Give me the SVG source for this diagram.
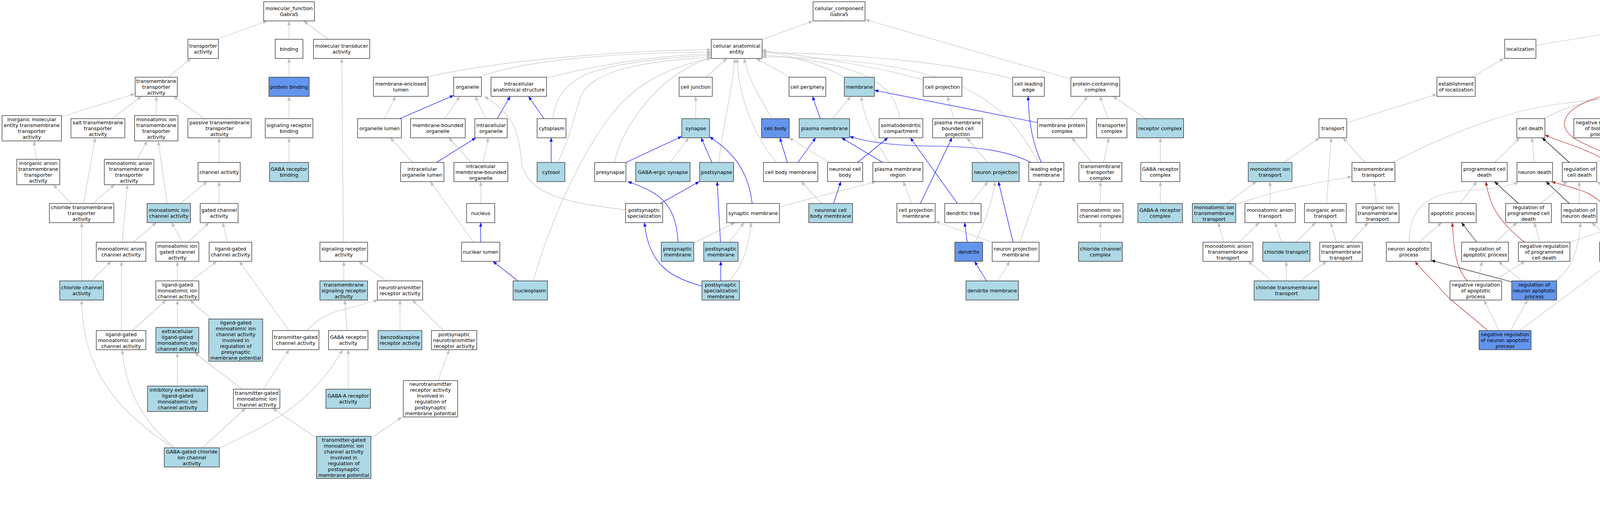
<svg xmlns="http://www.w3.org/2000/svg" width="6372" height="1325" viewBox="0 0 6372 1325">
<style>
.e path{fill:none;stroke-width:1.2}
.g{stroke:#C0C0C0;marker-end:url(#ag)}
.b{stroke:#0000FF;marker-end:url(#ab)}
.k{stroke:#000000;marker-end:url(#ak)}
.r{stroke:#B22222;marker-end:url(#ar)}
.nd rect{fill:#FFFFFF;stroke:#333333;stroke-width:1.4}
.lb rect{fill:#ADD8E6}
.cb rect{fill:#6495ED}
text{font-family:'DejaVu Sans','Liberation Sans',sans-serif;font-size:12.7px;text-anchor:middle;fill:#000}
</style>
<defs>
<marker id="ag" viewBox="0 0 11 9" refX="11" refY="4.5" markerWidth="11" markerHeight="9" markerUnits="userSpaceOnUse" orient="auto"><path d="M0,0L11,4.5L0,9z" fill="#C0C0C0"/></marker>
<marker id="ab" viewBox="0 0 10 8" refX="10" refY="4" markerWidth="10" markerHeight="8" markerUnits="userSpaceOnUse" orient="auto"><path d="M0,0L10,4L0,8z" fill="#0000FF"/></marker>
<marker id="ak" viewBox="0 0 10 8" refX="10" refY="4" markerWidth="10" markerHeight="8" markerUnits="userSpaceOnUse" orient="auto"><path d="M0,0L10,4L0,8z" fill="#000000"/></marker>
<marker id="ar" viewBox="0 0 10 8" refX="10" refY="4" markerWidth="10" markerHeight="8" markerUnits="userSpaceOnUse" orient="auto"><path d="M0,0L10,4L0,8z" fill="#B22222"/></marker>
</defs>
<rect x="0" y="0" width="6372" height="1325" fill="#FFFFFF"/>
<g id="connectors" class="e">
<path class="g" d="M555,100.5L684,53.5"/>
<path class="g" d="M740,100.5V53.5"/>
<path class="g" d="M840,100.5L777,53.5"/>
<path class="g" d="M431,197.5L489,149.5"/>
<path class="g" d="M740,197.5V149.5"/>
<path class="g" d="M740,303.5V246.5"/>
<path class="g" d="M740,415.5V352.5"/>
<path class="g" d="M879,619.5L875,149.5"/>
<path class="g" d="M157,299L345,240"/>
<path class="g" d="M287,303.5L362,246.5"/>
<path class="g" d="M400,295.5V246.5"/>
<path class="g" d="M523.5,303.5L444,246.5"/>
<path class="g" d="M93,407.5L87,360.5"/>
<path class="g" d="M351,407.5L377,360.5"/>
<path class="g" d="M428,520.5L405,360.5"/>
<path class="g" d="M561,415.5V352.5"/>
<path class="g" d="M183,520.5L136,472.5"/>
<path class="g" d="M214,520.5L244,352.5"/>
<path class="g" d="M237,520.5L293,472.5"/>
<path class="g" d="M462,520.5L530,464.5"/>
<path class="g" d="M561,520.5V464.5"/>
<path class="g" d="M341,619.5L400,569.5"/>
<path class="g" d="M313,619.5L326,472.5"/>
<path class="g" d="M467,619.5L439,569.5"/>
<path class="g" d="M482,619.5L535,569.5"/>
<path class="g" d="M582.5,619.5L570,569.5"/>
<path class="g" d="M209,718.5V569.5"/>
<path class="g" d="M234,718.5L284.5,668.5"/>
<path class="g" d="M454,718.5V668.5"/>
<path class="g" d="M489,718.5L555,668.5"/>
<path class="g" d="M740,845.5L613,668.5"/>
<path class="g" d="M880,718.5V668.5"/>
<path class="g" d="M989,718.5L918,668.5"/>
<path class="g" d="M311,845.5V668.5"/>
<path class="g" d="M339,845.5L425,767.5"/>
<path class="g" d="M454,837.5V767.5"/>
<path class="g" d="M540.5,816L486,767.5"/>
<path class="g" d="M786,845.5C805,822 830,808 860,797L968,767.5"/>
<path class="g" d="M889,845.5L882,767.5"/>
<path class="g" d="M1024,845.5V767.5"/>
<path class="g" d="M1135,845.5L1056,767.5"/>
<path class="g" d="M454,987.5V902.5"/>
<path class="g" d="M620,995.5L498,902.5"/>
<path class="g" d="M674,995.5L740,894.5"/>
<path class="g" d="M891.5,995.5V894.5"/>
<path class="g" d="M1121.5,973.5L1150,894.5"/>
<path class="g" d="M443,1145.5C300,1050 212,950 209,767.5"/>
<path class="g" d="M448,1145.5C340,1060 318,960 313,894.5"/>
<path class="g" d="M518,1145.5L628.5,1044.5"/>
<path class="g" d="M561,1147C700,1080 800,1030 877,894.5"/>
<path class="g" d="M811,1121L698,1044.5"/>
<path class="g" d="M949.5,1121L1029,1066.8"/>
<path class="g" d="M1951,101L2081,54"/>
<path class="g" d="M2740,202L2215,50"/>
<path class="g" d="M1090,197.5C1300,150 1600,130 1821,127"/>
<path class="g" d="M1225,197.5C1350,150 1600,135 1821,133"/>
<path class="g" d="M1398,200C1550,160 1700,142 1821,137"/>
<path class="g" d="M1415,303.5C1420,260 1440,220 1500,190C1580,160 1700,148 1821,141"/>
<path class="g" d="M1428,415.5C1465,340 1475,270 1490,240C1520,190 1600,160 1821,146"/>
<path class="g" d="M1365,718.5C1420,530 1500,380 1560,300C1620,220 1700,175 1821,148"/>
<path class="g" d="M1573,415.5C1590,340 1640,270 1700,215C1750,175 1790,155 1821,149"/>
<path class="g" d="M1807,197.5L1861,149.5"/>
<path class="g" d="M1840,415.5C1850,320 1875,230 1881,149.5"/>
<path class="g" d="M1988,415.5C1940,360 1890,260 1887,149.5"/>
<path class="g" d="M1976,303.5C1940,240 1915,200 1905,149.5"/>
<path class="g" d="M2022,197.5L1936,149.5"/>
<path class="g" d="M2160,197.5C2100,160 2000,140 1951,127"/>
<path class="g" d="M2364,205C2250,170 2050,140 1951,131"/>
<path class="g" d="M2593,202C2400,150 2100,135 1951,135"/>
<path class="g" d="M2304,303.5C2290,210 2200,160 1951,140"/>
<path class="g" d="M2659,415.5C2580,280 2500,150 1951,145"/>
<path class="g" d="M1781,303.5V246.5"/>
<path class="b" d="M2100,303.5L2080,246.5"/>
<path class="g" d="M2131,303.5L2178,246.5"/>
<path class="g" d="M984,303.5L1012.5,246.5"/>
<path class="b" d="M1023,303.5L1161.5,244"/>
<path class="g" d="M1138.5,303.5L1177,246.5"/>
<path class="g" d="M1243.5,303.5L1216.5,246.5"/>
<path class="b" d="M1273,303.5L1306,246.5"/>
<path class="b" d="M1392.5,303.5L1353,246.5"/>
<path class="g" d="M1056.5,415.5L999,352.5"/>
<path class="b" d="M1117.5,415.5L1218,352.5"/>
<path class="g" d="M1206,415.5L1149,352.5"/>
<path class="g" d="M1237,415.5L1250,352.5"/>
<path class="b" d="M1411,415.5V352.5"/>
<path class="b" d="M1602.5,415.5L1745.5,349"/>
<path class="g" d="M1715.5,415.5L1763,352.5"/>
<path class="b" d="M1822.5,415.5L1795,352.5"/>
<path class="b" d="M2015.5,415.5L1996.5,352.5"/>
<path class="b" d="M2042.5,415.5L2088,352.5"/>
<path class="g" d="M2122,415.5L2020,352.5"/>
<path class="b" d="M2195,415.5L2273,352.5"/>
<path class="g" d="M2276,415.5C2240,360 2210,300 2205,246.5"/>
<path class="b" d="M2259.5,415.5L2154.5,352.5"/>
<path class="g" d="M2442,303.5L2425.5,246.5"/>
<path class="g" d="M2528,415.5L2475,352.5"/>
<path class="b" d="M2666,415.5C2640,360 2633,300 2632,246.5"/>
<path class="b" d="M2639,415.5C2580,385 2500,375 2400,374C2300,373 2230,366 2175,349"/>
<path class="b" d="M2656,313.5L2238.5,231"/>
<path class="g" d="M2739,303.5L2784,246.5"/>
<path class="g" d="M2836.5,303.5L2816,246.5"/>
<path class="g" d="M2933,303.5L2849,246.5"/>
<path class="g" d="M2794.5,415.5L2744,352.5"/>
<path class="g" d="M2825,415.5L2838.5,352.5"/>
<path class="g" d="M2970.5,415.5V352.5"/>
<path class="g" d="M1231,520.5V464.5"/>
<path class="b" d="M1690.5,520.5L1790,464.5"/>
<path class="g" d="M1601.5,537C1480,520 1360,510 1335,420C1330,330 1310,290 1240,246.5"/>
<path class="b" d="M1925.5,520.5C1915,430 1870,385 1816.5,350"/>
<path class="g" d="M1995.5,529L2242.5,464.5"/>
<path class="g" d="M2103,520.5L2051,464.5"/>
<path class="b" d="M2134,520.5L2152.5,464.5"/>
<path class="g" d="M2334,520.5L2312.5,464.5"/>
<path class="b" d="M2356,520.5L2437,352.5"/>
<path class="b" d="M2451,520.5L2330.5,352.5"/>
<path class="g" d="M2485,520.5L2529,464.5"/>
<path class="g" d="M2817,520.5V464.5"/>
<path class="g" d="M2970.5,520.5V464.5"/>
<path class="b" d="M1230.5,619.5V569.5"/>
<path class="g" d="M1212.5,619.5L1101.5,464.5"/>
<path class="b" d="M1736,619.5C1730,530 1700,495 1607,464.5"/>
<path class="g" d="M1776.5,621.5L1881.5,569.5"/>
<path class="b" d="M1844.5,619.5L1836,464.5"/>
<path class="g" d="M1866.5,619.5L1905,569.5"/>
<path class="b" d="M2476,619.5L2469.5,569.5"/>
<path class="g" d="M2496.5,619.5C2520,570 2540,520 2547,464.5"/>
<path class="b" d="M2593.5,619.5L2556,464.5"/>
<path class="g" d="M2538.5,619.5L2394,566"/>
<path class="g" d="M2610.5,619.5L2666,464.5"/>
<path class="g" d="M2817,619.5V569.5"/>
<path class="b" d="M1326,718.5L1262,668.5"/>
<path class="b" d="M1797,732C1720,710 1660,680 1650,569.5"/>
<path class="b" d="M1845,718.5V668.5"/>
<path class="g" d="M1868,718.5C1900,680 1915,640 1923.5,569.5"/>
<path class="b" d="M2525.5,718.5L2495,668.5"/>
<path class="g" d="M2555,718.5L2584.5,668.5"/>
<path class="g" d="M3931,116L4383.5,42"/>
<path class="g" d="M3768.5,197.5L3850,149.5"/>
<path class="g" d="M3448,314L3678.5,241"/>
<path class="g" d="M4316,197.5L4431,53.5"/>
<path class="r" d="M4120.5,303.5L4410.5,53.5"/>
<path class="k" d="M4427,197.5C4415,150 4418,100 4431,53.5"/>
<path class="g" d="M4485,100.5L4465,53.5"/>
<path class="g" d="M4590,100.5L4498.5,53.5"/>
<path class="g" d="M4957,114L4509.5,42"/>
<path class="g" d="M5886.5,211L4509.5,36"/>
<path class="g" d="M4451,197.5L4482,149.5"/>
<path class="g" d="M4766,204L4569,148"/>
<path class="g" d="M5130.5,213.5L4675.5,135"/>
<path class="g" d="M5489.5,207L5061,135"/>
<path class="g" d="M5009,303.5V149.5"/>
<path class="g" d="M4946,303.5C4880,275 4700,270 4590,270C4480,270 4420,262 4349,246.5"/>
<path class="g" d="M5171.5,303.5V246.5"/>
<path class="g" d="M4407,303.5L4333,246.5"/>
<path class="g" d="M4539,303.5L4345,246.5"/>
<path class="g" d="M4595,303.5L4627,149.5"/>
<path class="g" d="M4672.5,303.5L4498,243"/>
<path class="k" d="M4255,303.5L4282,246.5"/>
<path class="g" d="M4288.5,303.5L4383.5,246.5"/>
<path class="g" d="M4160,303.5L4378,246.5"/>
<path class="g" d="M4834,303.5L4829,246.5"/>
<path class="g" d="M4837,415.5V352.5"/>
<path class="b" d="M4439,415.5V352.5"/>
<path class="b" d="M4470,415.5L4556,352.5"/>
<path class="b" d="M4503.5,419L4672.5,352.5"/>
<path class="g" d="M4393.5,415.5L4288.5,352.5"/>
<path class="g" d="M4410.5,415.5C4360,360 4320,300 4309,246.5"/>
<path class="g" d="M4651,415.5L4691.5,352.5"/>
<path class="g" d="M4593.5,415.5L4485,352.5"/>
<path class="g" d="M5165.5,415.5L5054,352.5"/>
<path class="g" d="M4574.5,520.5L4617,464.5"/>
<path class="g" d="M4696.5,520.5L4658,464.5"/>
<path class="g" d="M5096,520.5L5020,352.5"/>
<path class="b" d="M5130.5,520.5L5182.5,464.5"/>
<path class="g" d="M5105,520.5C5110,420 5130,380 5200,370C5270,360 5290,300 5340,275C5400,250 5450,240 5489.5,235"/>
<path class="g" d="M4556,619.5V569.5"/>
<path class="g" d="M4556,718.5V668.5"/>
<path class="g" d="M4556,845.5V767.5"/>
<path class="g" d="M4556,995.5V894.5"/>
<path class="g" d="M5277.5,619.5L5220,464.5"/>
<path class="g" d="M5262,845.5C5230,760 5207,700 5206.5,464.5"/>
<path class="g" d="M5289.5,718.5V668.5"/>
<path class="b" d="M5278,845.5L5284,767.5"/>
<path class="b" d="M5152,995.5L5247,894.5"/>
<path class="g" d="M5126.5,995.5C5118,800 5110,650 5110,569.5"/>
<path class="g" d="M5281,995.5L5277.5,894.5"/>
<path class="g" d="M5282,1145.5V1044.5"/>
<path class="b" d="M5230,1272.5L5267.5,1194.5"/>
<path class="g" d="M5209.5,1272.5L5136.5,1044.5"/>
<path class="b" d="M5322,1145.5C5360,1080 5395,980 5415,800C5425,720 5433,690 5435,668.5"/>
<path class="b" d="M5433.5,619.5L5426.5,569.5"/>
<path class="g" d="M5398,619.5C5320,540 5320,430 5337,350C5360,270 5420,250 5489.5,240"/>
<path class="b" d="M5586.5,718.5L5489.5,668.5"/>
<path class="g" d="M5649,718.5C5700,560 5760,400 5700,310C5670,270 5640,260 5608,246.5"/>
<path class="g" d="M5415,520.5L5401.5,464.5"/>
<path class="g" d="M5401.5,415.5L5418.5,352.5"/>
<path class="g" d="M5459,303.5L5526.5,246.5"/>
<path class="g" d="M5512,303.5L5212.5,232"/>
<path class="g" d="M5653.5,306.5L5886.5,243"/>
<path class="g" d="M5791,303.5L5629.5,244"/>
<path class="g" d="M5881,303.5L5929.5,246.5"/>
<path class="g" d="M6026,303.5L5980.5,246.5"/>
<path class="g" d="M6160,303.5L6019.5,246.5"/>
<path class="g" d="M5477,415.5L5231.5,344"/>
<path class="g" d="M5588,415.5C5650,385 5750,378 5850,375C5930,372 5980,355 6012.5,342.5"/>
<path class="g" d="M5652,415.5L5604.5,352.5"/>
<path class="b" d="M5863.5,415.5L5860.5,352.5"/>
<path class="g" d="M5835,415.5C5770,360 5740,320 5710,300C5680,280 5650,262 5624,246.5"/>
<path class="g" d="M6214.5,415.5V352.5"/>
<path class="g" d="M5600,520.5L5554,464.5"/>
<path class="g" d="M5632,520.5L5657,464.5"/>
<path class="g" d="M5865,520.5V464.5"/>
<path class="g" d="M6185,520.5L6204,464.5"/>
<path class="g" d="M6280,520.5L6238,464.5"/>
<path class="b" d="M5336,620L5810.5,554"/>
<path class="b" d="M5926.5,619.5L5889,569.5"/>
<path class="g" d="M5957,619.5C5990,480 6010,330 5940,285C5860,245 5720,232 5629.5,228"/>
<path class="g" d="M6156.5,619.5L6169,569.5"/>
<path class="g" d="M6142,619.5L6058.5,352.5"/>
<path class="g" d="M6301,619.5V569.5"/>
<path class="b" d="M5986,718.5L5962,668.5"/>
<path class="g" d="M6014,718.5C6035,690 6045,670 6050,650C6100,500 6130,380 6110,320C6090,280 6060,260 6019.5,244"/>
<path class="g" d="M6150.5,718.5V668.5"/>
<path class="g" d="M6301,718.5V668.5"/>
<path class="g" d="M6150.5,845.5V767.5"/>
<path class="g" d="M3286,415.5L3378,352.5"/>
<path class="g" d="M3396,520.5L3408,352.5"/>
<path class="g" d="M3494,415.5L3438,352.5"/>
<path class="g" d="M3565,415.5C3750,320 3900,275 4000,265C4120,250 4200,240 4245,236"/>
<path class="g" d="M3953,303.5C4000,275 4080,250 4245,228"/>
<path class="r" d="M4164,415.5C4080,375 4010,360 4005,320C4002,270 4100,235 4245,221"/>
<path class="r" d="M4202,520.5C4170,480 4140,430 4110,410C4060,380 4000,365 3955,345"/>
<path class="k" d="M4017.5,415.5L3948,352.5"/>
<path class="g" d="M3826,415.5L3890.5,352.5"/>
<path class="g" d="M3927.5,415.5L3922,352.5"/>
<path class="g" d="M4087,415.5L4198.5,352.5"/>
<path class="g" d="M4200,415.5L4131,352.5"/>
<path class="g" d="M4232.5,415.5L4237,352.5"/>
<path class="g" d="M3738,520.5L3780.5,464.5"/>
<path class="k" d="M3887,520.5L3826,464.5"/>
<path class="r" d="M3902,619.5C3850,575 3815,540 3804,464.5"/>
<path class="k" d="M4017.5,520.5L3958,464.5"/>
<path class="g" d="M3607,619.5C3610,530 3650,495 3760,487C3830,483 3870,475 3887,464.5"/>
<path class="r" d="M4154.5,619.5C4135,560 4110,510 4050,488C4010,475 3990,470 3972,464.5"/>
<path class="g" d="M3944.5,520.5L4012,464.5"/>
<path class="g" d="M4043,520.5V464.5"/>
<path class="g" d="M4188.5,520.5L4087.5,464.5"/>
<path class="g" d="M4230.5,520.5V464.5"/>
<path class="g" d="M3140,520.5L3216.5,464.5"/>
<path class="g" d="M3163.5,524C3250,490 3380,465 3461,452"/>
<path class="g" d="M3251.5,520.5V464.5"/>
<path class="g" d="M3523.5,520.5L3518,464.5"/>
<path class="g" d="M3133,619.5L3118.5,569.5"/>
<path class="g" d="M3172.5,619.5L3223.5,569.5"/>
<path class="g" d="M3281,619.5L3264,569.5"/>
<path class="g" d="M3318,619.5L3367.5,569.5"/>
<path class="g" d="M3421.5,619.5L3406,569.5"/>
<path class="g" d="M3457,619.5L3502.5,569.5"/>
<path class="g" d="M3633,619.5L3690.5,569.5"/>
<path class="k" d="M3780.5,619.5L3741.5,569.5"/>
<path class="r" d="M3757,718.5C3730,690 3722,650 3718,569.5"/>
<path class="g" d="M3828,619.5L3883.5,569.5"/>
<path class="g" d="M3943,619.5L3927.5,569.5"/>
<path class="g" d="M4019,619.5L4166,569.5"/>
<path class="g" d="M4132,619.5L4074.5,569.5"/>
<path class="g" d="M4178,619.5L4212,569.5"/>
<path class="g" d="M3982,718.5C4020,690 4040,650 4046,569.5"/>
<path class="g" d="M3896,718.5L3836,668.5"/>
<path class="k" d="M3870,721L3664,666"/>
<path class="g" d="M3784,718.5L3794,668.5"/>
<path class="g" d="M3822.5,718.5L3904,668.5"/>
<path class="g" d="M3837.5,845.5L3799,767.5"/>
<path class="g" d="M3866.5,845.5L3910.5,767.5"/>
<path class="g" d="M3890.5,845.5L4127.5,668.5"/>
<path class="r" d="M3808,845.5C3760,800 3710,770 3680,730C3650,700 3630,680 3623,668.5"/>
<path class="g" d="M3257,718.5L3195,668.5"/>
<path class="g" d="M3293,718.5V668.5"/>
<path class="g" d="M3327,718.5L3396,668.5"/>
</g>
<g id="m0" class="nd"><rect x="675" y="4.5" width="130" height="49"/><text x="740" y="26">molecular_function<tspan x="740" dy="15">Gabra5</tspan></text></g>
<g id="m1" class="nd"><rect x="481" y="100.5" width="78" height="49"/><text x="520" y="122">transporter<tspan x="520" dy="15">activity</tspan></text></g>
<g id="m2" class="nd"><rect x="704.5" y="100.5" width="71" height="49"/><text x="740" y="129.5">binding</text></g>
<g id="m3" class="nd"><rect x="802.5" y="100.5" width="144" height="49"/><text x="874.5" y="122">molecular transducer<tspan x="874.5" dy="15">activity</tspan></text></g>
<g id="m4" class="nd"><rect x="346" y="197.5" width="108" height="49"/><text x="400" y="211.5">transmembrane<tspan x="400" dy="15">transporter</tspan><tspan x="400" dy="15">activity</tspan></text></g>
<g id="m5" class="nd cb"><rect x="688.5" y="197.5" width="103" height="49"/><text x="740" y="226.5">protein binding</text></g>
<g id="m6" class="nd"><rect x="5.3" y="295.5" width="152" height="65"/><text x="81.3" y="310">inorganic molecular<tspan x="81.3" dy="15">entity transmembrane</tspan><tspan x="81.3" dy="15">transporter</tspan><tspan x="81.3" dy="15">activity</tspan></text></g>
<g id="m7" class="nd"><rect x="181.6" y="303.5" width="138" height="49"/><text x="250.6" y="317.5">salt transmembrane<tspan x="250.6" dy="15">transporter</tspan><tspan x="250.6" dy="15">activity</tspan></text></g>
<g id="m8" class="nd"><rect x="344.5" y="295.5" width="111" height="65"/><text x="400" y="310">monoatomic ion<tspan x="400" dy="15">transmembrane</tspan><tspan x="400" dy="15">transporter</tspan><tspan x="400" dy="15">activity</tspan></text></g>
<g id="m9" class="nd"><rect x="481" y="303.5" width="162" height="49"/><text x="562" y="317.5">passive transmembrane<tspan x="562" dy="15">transporter</tspan><tspan x="562" dy="15">activity</tspan></text></g>
<g id="m10" class="nd"><rect x="679" y="303.5" width="122" height="49"/><text x="740" y="325">signaling receptor<tspan x="740" dy="15">binding</tspan></text></g>
<g id="m11" class="nd"><rect x="43" y="407.5" width="110" height="65"/><text x="98" y="422">inorganic anion<tspan x="98" dy="15">transmembrane</tspan><tspan x="98" dy="15">transporter</tspan><tspan x="98" dy="15">activity</tspan></text></g>
<g id="m12" class="nd"><rect x="267" y="407.5" width="127" height="65"/><text x="330.5" y="422">monoatomic anion<tspan x="330.5" dy="15">transmembrane</tspan><tspan x="330.5" dy="15">transporter</tspan><tspan x="330.5" dy="15">activity</tspan></text></g>
<g id="m13" class="nd"><rect x="507" y="415.5" width="108" height="49"/><text x="561" y="444.5">channel activity</text></g>
<g id="m14" class="nd lb"><rect x="690" y="415.5" width="100" height="49"/><text x="740" y="437">GABA receptor<tspan x="740" dy="15">binding</tspan></text></g>
<g id="m15" class="nd"><rect x="126.5" y="520.5" width="165" height="49"/><text x="209" y="534.5">chloride transmembrane<tspan x="209" dy="15">transporter</tspan><tspan x="209" dy="15">activity</tspan></text></g>
<g id="m16" class="nd lb"><rect x="376.5" y="520.5" width="111" height="49"/><text x="432" y="542">monoatomic ion<tspan x="432" dy="15">channel activity</tspan></text></g>
<g id="m17" class="nd"><rect x="512.5" y="520.5" width="97" height="49"/><text x="561" y="542">gated channel<tspan x="561" dy="15">activity</tspan></text></g>
<g id="m18" class="nd"><rect x="246.5" y="619.5" width="127" height="49"/><text x="310" y="641">monoatomic anion<tspan x="310" dy="15">channel activity</tspan></text></g>
<g id="m19" class="nd"><rect x="399" y="619.5" width="110" height="49"/><text x="454" y="633.5">monoatomic ion<tspan x="454" dy="15">gated channel</tspan><tspan x="454" dy="15">activity</tspan></text></g>
<g id="m20" class="nd"><rect x="535.5" y="619.5" width="109" height="49"/><text x="590" y="641">ligand-gated<tspan x="590" dy="15">channel activity</tspan></text></g>
<g id="m21" class="nd"><rect x="819" y="619.5" width="122" height="49"/><text x="880" y="641">signaling receptor<tspan x="880" dy="15">activity</tspan></text></g>
<g id="m22" class="nd lb"><rect x="153" y="718.5" width="112" height="49"/><text x="209" y="740">chloride channel<tspan x="209" dy="15">activity</tspan></text></g>
<g id="m23" class="nd"><rect x="399" y="718.5" width="110" height="49"/><text x="454" y="732.5">ligand-gated<tspan x="454" dy="15">monoatomic ion</tspan><tspan x="454" dy="15">channel activity</tspan></text></g>
<g id="m24" class="nd lb"><rect x="819" y="718.5" width="122" height="49"/><text x="880" y="732.5">transmembrane<tspan x="880" dy="15">signaling receptor</tspan><tspan x="880" dy="15">activity</tspan></text></g>
<g id="m25" class="nd"><rect x="966" y="718.5" width="116" height="49"/><text x="1024" y="740">neurotransmitter<tspan x="1024" dy="15">receptor activity</tspan></text></g>
<g id="m26" class="nd"><rect x="246.5" y="845.5" width="127" height="49"/><text x="310" y="859.5">ligand-gated<tspan x="310" dy="15">monoatomic anion</tspan><tspan x="310" dy="15">channel activity</tspan></text></g>
<g id="m27" class="nd lb"><rect x="399" y="837.5" width="110" height="65"/><text x="454" y="852">extracellular<tspan x="454" dy="15">ligand-gated</tspan><tspan x="454" dy="15">monoatomic ion</tspan><tspan x="454" dy="15">channel activity</tspan></text></g>
<g id="m28" class="nd lb"><rect x="534.5" y="816" width="138" height="108"/><text x="603.5" y="829.5">ligand-gated<tspan x="603.5" dy="15">monoatomic ion</tspan><tspan x="603.5" dy="15">channel activity</tspan><tspan x="603.5" dy="15">involved in</tspan><tspan x="603.5" dy="15">regulation of</tspan><tspan x="603.5" dy="15">presynaptic</tspan><tspan x="603.5" dy="15">membrane potential</tspan></text></g>
<g id="m29" class="nd"><rect x="697.5" y="845.5" width="119" height="49"/><text x="757" y="867">transmitter-gated<tspan x="757" dy="15">channel activity</tspan></text></g>
<g id="m30" class="nd"><rect x="841" y="845.5" width="101" height="49"/><text x="891.5" y="867">GABA receptor<tspan x="891.5" dy="15">activity</tspan></text></g>
<g id="m31" class="nd lb"><rect x="968" y="845.5" width="112" height="49"/><text x="1024" y="867">benzodiazepine<tspan x="1024" dy="15">receptor activity</tspan></text></g>
<g id="m32" class="nd"><rect x="1104.5" y="845.5" width="116" height="49"/><text x="1162.5" y="859.5">postsynaptic<tspan x="1162.5" dy="15">neurotransmitter</tspan><tspan x="1162.5" dy="15">receptor activity</tspan></text></g>
<g id="m33" class="nd lb"><rect x="377.5" y="987.5" width="154" height="65"/><text x="454.5" y="1002">inhibitory extracellular<tspan x="454.5" dy="15">ligand-gated</tspan><tspan x="454.5" dy="15">monoatomic ion</tspan><tspan x="454.5" dy="15">channel activity</tspan></text></g>
<g id="m34" class="nd"><rect x="597.5" y="995.5" width="119" height="49"/><text x="657" y="1009.5">transmitter-gated<tspan x="657" dy="15">monoatomic ion</tspan><tspan x="657" dy="15">channel activity</tspan></text></g>
<g id="m35" class="nd lb"><rect x="834.5" y="995.5" width="114" height="49"/><text x="891.5" y="1017">GABA-A receptor<tspan x="891.5" dy="15">activity</tspan></text></g>
<g id="m36" class="nd"><rect x="1032.5" y="973.5" width="139" height="93"/><text x="1102" y="987">neurotransmitter<tspan x="1102" dy="15">receptor activity</tspan><tspan x="1102" dy="15">involved in</tspan><tspan x="1102" dy="15">regulation of</tspan><tspan x="1102" dy="15">postsynaptic</tspan><tspan x="1102" dy="15">membrane potential</tspan></text></g>
<g id="m37" class="nd lb"><rect x="420.5" y="1145.5" width="141" height="49"/><text x="491" y="1159.5">GABA-gated chloride<tspan x="491" dy="15">ion channel</tspan><tspan x="491" dy="15">activity</tspan></text></g>
<g id="m38" class="nd lb"><rect x="810.5" y="1116" width="139" height="108"/><text x="880" y="1129.5">transmitter-gated<tspan x="880" dy="15">monoatomic ion</tspan><tspan x="880" dy="15">channel activity</tspan><tspan x="880" dy="15">involved in</tspan><tspan x="880" dy="15">regulation of</tspan><tspan x="880" dy="15">postsynaptic</tspan><tspan x="880" dy="15">membrane potential</tspan></text></g>
<g id="c0" class="nd"><rect x="2081.5" y="4.5" width="133" height="49"/><text x="2148" y="26">cellular_component<tspan x="2148" dy="15">Gabra5</tspan></text></g>
<g id="c1" class="nd"><rect x="1821" y="100.5" width="130" height="49"/><text x="1886" y="122">cellular anatomical<tspan x="1886" dy="15">entity</tspan></text></g>
<g id="c2" class="nd"><rect x="956" y="197.5" width="140" height="49"/><text x="1026" y="219">membrane-enclosed<tspan x="1026" dy="15">lumen</tspan></text></g>
<g id="c3" class="nd"><rect x="1161.5" y="197.5" width="71" height="49"/><text x="1197" y="226.5">organelle</text></g>
<g id="c4" class="nd"><rect x="1257" y="197.5" width="142" height="49"/><text x="1328" y="219">intracellular<tspan x="1328" dy="15">anatomical structure</tspan></text></g>
<g id="c5" class="nd"><rect x="1738.5" y="197.5" width="85" height="49"/><text x="1781" y="226.5">cell junction</text></g>
<g id="c6" class="nd"><rect x="2020" y="197.5" width="94" height="49"/><text x="2067" y="226.5">cell periphery</text></g>
<g id="c7" class="nd lb"><rect x="2161.5" y="197.5" width="77" height="49"/><text x="2200" y="226.5">membrane</text></g>
<g id="c8" class="nd"><rect x="2363.5" y="197.5" width="99" height="49"/><text x="2413" y="226.5">cell projection</text></g>
<g id="c9" class="nd"><rect x="2592.5" y="197.5" width="81" height="49"/><text x="2633" y="219">cell leading<tspan x="2633" dy="15">edge</tspan></text></g>
<g id="c10" class="nd"><rect x="2741.5" y="197.5" width="125" height="49"/><text x="2804" y="219">protein-containing<tspan x="2804" dy="15">complex</tspan></text></g>
<g id="c11" class="nd"><rect x="915.5" y="303.5" width="112" height="49"/><text x="971.5" y="332.5">organelle lumen</text></g>
<g id="c12" class="nd"><rect x="1051" y="303.5" width="140" height="49"/><text x="1121" y="325">membrane-bounded<tspan x="1121" dy="15">organelle</tspan></text></g>
<g id="c13" class="nd"><rect x="1215.5" y="303.5" width="83" height="49"/><text x="1257" y="325">intracellular<tspan x="1257" dy="15">organelle</tspan></text></g>
<g id="c14" class="nd"><rect x="1375" y="303.5" width="74" height="49"/><text x="1412" y="332.5">cytoplasm</text></g>
<g id="c15" class="nd lb"><rect x="1745.5" y="303.5" width="71" height="49"/><text x="1781" y="332.5">synapse</text></g>
<g id="c16" class="nd cb"><rect x="1949.5" y="303.5" width="71" height="49"/><text x="1985" y="332.5">cell body</text></g>
<g id="c17" class="nd lb"><rect x="2046" y="303.5" width="129" height="49"/><text x="2110.5" y="332.5">plasma membrane</text></g>
<g id="c18" class="nd"><rect x="2250.5" y="303.5" width="112" height="49"/><text x="2306.5" y="325">somatodendritic<tspan x="2306.5" dy="15">compartment</tspan></text></g>
<g id="c19" class="nd"><rect x="2387.5" y="303.5" width="128" height="49"/><text x="2451.5" y="317.5">plasma membrane<tspan x="2451.5" dy="15">bounded cell</tspan><tspan x="2451.5" dy="15">projection</tspan></text></g>
<g id="c20" class="nd"><rect x="2656" y="303.5" width="126" height="49"/><text x="2719" y="325">membrane protein<tspan x="2719" dy="15">complex</tspan></text></g>
<g id="c21" class="nd"><rect x="2807" y="303.5" width="78" height="49"/><text x="2846" y="325">transporter<tspan x="2846" dy="15">complex</tspan></text></g>
<g id="c22" class="nd lb"><rect x="2910" y="303.5" width="120" height="49"/><text x="2970" y="332.5">receptor complex</text></g>
<g id="c23" class="nd"><rect x="1025.5" y="415.5" width="111" height="49"/><text x="1081" y="437">intracellular<tspan x="1081" dy="15">organelle lumen</tspan></text></g>
<g id="c24" class="nd"><rect x="1162" y="415.5" width="138" height="49"/><text x="1231" y="429.5">intracellular<tspan x="1231" dy="15">membrane-bounded</tspan><tspan x="1231" dy="15">organelle</tspan></text></g>
<g id="c25" class="nd lb"><rect x="1375" y="415.5" width="71" height="49"/><text x="1410.5" y="444.5">cytosol</text></g>
<g id="c26" class="nd"><rect x="1522.5" y="415.5" width="80" height="49"/><text x="1562.5" y="444.5">presynapse</text></g>
<g id="c27" class="nd lb"><rect x="1627.5" y="415.5" width="139" height="49"/><text x="1697" y="444.5">GABA-ergic synapse</text></g>
<g id="c28" class="nd lb"><rect x="1791" y="415.5" width="87" height="49"/><text x="1834.5" y="444.5">postsynapse</text></g>
<g id="c29" class="nd"><rect x="1954.5" y="415.5" width="139" height="49"/><text x="2024" y="444.5">cell body membrane</text></g>
<g id="c30" class="nd"><rect x="2118.5" y="415.5" width="90" height="49"/><text x="2163.5" y="437">neuronal cell<tspan x="2163.5" dy="15">body</tspan></text></g>
<g id="c31" class="nd"><rect x="2234.5" y="415.5" width="128" height="49"/><text x="2298.5" y="437">plasma membrane<tspan x="2298.5" dy="15">region</tspan></text></g>
<g id="c32" class="nd lb"><rect x="2489" y="415.5" width="120" height="49"/><text x="2549" y="444.5">neuron projection</text></g>
<g id="c33" class="nd"><rect x="2633.5" y="415.5" width="90" height="49"/><text x="2678.5" y="437">leading edge<tspan x="2678.5" dy="15">membrane</tspan></text></g>
<g id="c34" class="nd"><rect x="2762" y="415.5" width="110" height="49"/><text x="2817" y="429.5">transmembrane<tspan x="2817" dy="15">transporter</tspan><tspan x="2817" dy="15">complex</tspan></text></g>
<g id="c35" class="nd"><rect x="2920.5" y="415.5" width="100" height="49"/><text x="2970.5" y="437">GABA receptor<tspan x="2970.5" dy="15">complex</tspan></text></g>
<g id="c36" class="nd"><rect x="1194.5" y="520.5" width="72" height="49"/><text x="1230.5" y="549.5">nucleus</text></g>
<g id="c37" class="nd"><rect x="1601.5" y="520.5" width="95" height="49"/><text x="1649" y="542">postsynaptic<tspan x="1649" dy="15">specialization</tspan></text></g>
<g id="c38" class="nd"><rect x="1860.5" y="520.5" width="135" height="49"/><text x="1928" y="549.5">synaptic membrane</text></g>
<g id="c39" class="nd lb"><rect x="2070.5" y="520.5" width="112" height="49"/><text x="2126.5" y="542">neuronal cell<tspan x="2126.5" dy="15">body membrane</tspan></text></g>
<g id="c40" class="nd"><rect x="2296" y="520.5" width="98" height="49"/><text x="2345" y="542">cell projection<tspan x="2345" dy="15">membrane</tspan></text></g>
<g id="c41" class="nd"><rect x="2418.5" y="520.5" width="93" height="49"/><text x="2465" y="549.5">dendritic tree</text></g>
<g id="c42" class="nd"><rect x="2759" y="520.5" width="116" height="49"/><text x="2817" y="542">monoatomic ion<tspan x="2817" dy="15">channel complex</tspan></text></g>
<g id="c43" class="nd lb"><rect x="2913" y="520.5" width="114" height="49"/><text x="2970" y="542">GABA-A receptor<tspan x="2970" dy="15">complex</tspan></text></g>
<g id="c44" class="nd"><rect x="1181.5" y="619.5" width="98" height="49"/><text x="1230.5" y="648.5">nuclear lumen</text></g>
<g id="c45" class="nd lb"><rect x="1693" y="619.5" width="83" height="49"/><text x="1734.5" y="641">presynaptic<tspan x="1734.5" dy="15">membrane</tspan></text></g>
<g id="c46" class="nd lb"><rect x="1801.5" y="619.5" width="88" height="49"/><text x="1845.5" y="641">postsynaptic<tspan x="1845.5" dy="15">membrane</tspan></text></g>
<g id="c47" class="nd cb"><rect x="2444.5" y="619.5" width="71" height="49"/><text x="2480" y="648.5">dendrite</text></g>
<g id="c48" class="nd"><rect x="2540" y="619.5" width="120" height="49"/><text x="2600" y="641">neuron projection<tspan x="2600" dy="15">membrane</tspan></text></g>
<g id="c49" class="nd lb"><rect x="2761" y="619.5" width="112" height="49"/><text x="2817" y="641">chloride channel<tspan x="2817" dy="15">complex</tspan></text></g>
<g id="c50" class="nd lb"><rect x="1313.5" y="718.5" width="88" height="49"/><text x="1357.5" y="747.5">nucleoplasm</text></g>
<g id="c51" class="nd lb"><rect x="1797" y="718.5" width="96" height="49"/><text x="1845" y="732.5">postsynaptic<tspan x="1845" dy="15">specialization</tspan><tspan x="1845" dy="15">membrane</tspan></text></g>
<g id="c52" class="nd lb"><rect x="2473" y="718.5" width="134" height="49"/><text x="2540" y="747.5">dendrite membrane</text></g>
<g id="b0" class="nd"><rect x="4383.5" y="4.5" width="126" height="49"/><text x="4446.5" y="26">biological_process<tspan x="4446.5" dy="15">Gabra5</tspan></text></g>
<g id="b1" class="nd"><rect x="3852" y="100.5" width="80" height="49"/><text x="3892" y="129.5">localization</text></g>
<g id="b2" class="nd"><rect x="4431" y="100.5" width="138" height="49"/><text x="4500" y="129.5">biological regulation</text></g>
<g id="b3" class="nd"><rect x="4593.5" y="100.5" width="82" height="49"/><text x="4634.5" y="122">response to<tspan x="4634.5" dy="15">stimulus</tspan></text></g>
<g id="b4" class="nd"><rect x="4957" y="100.5" width="104" height="49"/><text x="5009" y="122">developmental<tspan x="5009" dy="15">process</tspan></text></g>
<g id="b5" class="nd"><rect x="3678.5" y="197.5" width="98" height="49"/><text x="3727.5" y="219">establishment<tspan x="3727.5" dy="15">of localization</tspan></text></g>
<g id="b6" class="nd"><rect x="4245" y="197.5" width="106" height="49"/><text x="4298" y="226.5">cellular process</text></g>
<g id="b7" class="nd"><rect x="4376" y="197.5" width="122" height="49"/><text x="4437" y="219">regulation of<tspan x="4437" dy="15">biological process</tspan></text></g>
<g id="b8" class="nd"><rect x="4766" y="197.5" width="118" height="49"/><text x="4825" y="219">regulation of<tspan x="4825" dy="15">biological quality</tspan></text></g>
<g id="b9" class="nd"><rect x="5130.5" y="197.5" width="82" height="49"/><text x="5171.5" y="219">response to<tspan x="5171.5" dy="15">stress</tspan></text></g>
<g id="b10" class="nd"><rect x="5489.5" y="197.5" width="140" height="49"/><text x="5559.5" y="219">anatomical structure<tspan x="5559.5" dy="15">development</tspan></text></g>
<g id="b11" class="nd"><rect x="5886.5" y="197.5" width="133" height="49"/><text x="5953" y="219">multicellular<tspan x="5953" dy="15">organismal process</tspan></text></g>
<g id="b12" class="nd"><rect x="3376.5" y="303.5" width="71" height="49"/><text x="3412" y="332.5">transport</text></g>
<g id="b13" class="nd"><rect x="3883" y="303.5" width="72" height="49"/><text x="3919" y="332.5">cell death</text></g>
<g id="b14" class="nd"><rect x="4029" y="303.5" width="133" height="49"/><text x="4095.5" y="317.5">negative regulation<tspan x="4095.5" dy="15">of biological</tspan><tspan x="4095.5" dy="15">process</tspan></text></g>
<g id="b15" class="nd"><rect x="4187.5" y="303.5" width="107" height="49"/><text x="4241" y="325">regulation of<tspan x="4241" dy="15">cellular process</tspan></text></g>
<g id="b16" class="nd"><rect x="4372" y="303.5" width="133" height="49"/><text x="4438.5" y="332.5">cell communication</text></g>
<g id="b17" class="nd"><rect x="4530.5" y="303.5" width="117" height="49"/><text x="4589" y="325">cellular response<tspan x="4589" dy="15">to stimulus</tspan></text></g>
<g id="b18" class="nd"><rect x="4672.5" y="303.5" width="71" height="49"/><text x="4708" y="332.5">signaling</text></g>
<g id="b19" class="nd"><rect x="4768" y="303.5" width="138" height="49"/><text x="4837" y="325">regulation of<tspan x="4837" dy="15">membrane potential</tspan></text></g>
<g id="b20" class="nd"><rect x="4931.5" y="303.5" width="155" height="49"/><text x="5009" y="325">cellular developmental<tspan x="5009" dy="15">process</tspan></text></g>
<g id="b21" class="nd"><rect x="5111.5" y="303.5" width="120" height="49"/><text x="5171.5" y="332.5">defense response</text></g>
<g id="b22" class="nd"><rect x="5383.5" y="303.5" width="91" height="49"/><text x="5429" y="325">animal organ<tspan x="5429" dy="15">development</tspan></text></g>
<g id="b23" class="nd"><rect x="5511.5" y="303.5" width="142" height="49"/><text x="5582.5" y="317.5">multicellular<tspan x="5582.5" dy="15">organismal response</tspan><tspan x="5582.5" dy="15">to stress</tspan></text></g>
<g id="b24" class="nd"><rect x="5779.5" y="303.5" width="157" height="49"/><text x="5858" y="325">multicellular<tspan x="5858" dy="15">organism development</tspan></text></g>
<g id="b25" class="nd"><rect x="6012.5" y="303.5" width="71" height="49"/><text x="6048" y="332.5">behavior</text></g>
<g id="b26" class="nd"><rect x="6160.5" y="303.5" width="107" height="49"/><text x="6214" y="332.5">system process</text></g>
<g id="b27" class="nd lb"><rect x="3195.5" y="415.5" width="112" height="49"/><text x="3251.5" y="437">monoatomic ion<tspan x="3251.5" dy="15">transport</tspan></text></g>
<g id="b28" class="nd"><rect x="3461" y="415.5" width="110" height="49"/><text x="3516" y="437">transmembrane<tspan x="3516" dy="15">transport</tspan></text></g>
<g id="b29" class="nd"><rect x="3741.5" y="415.5" width="117" height="49"/><text x="3800" y="437">programmed cell<tspan x="3800" dy="15">death</tspan></text></g>
<g id="b30" class="nd"><rect x="3883.5" y="415.5" width="91" height="49"/><text x="3929" y="444.5">neuron death</text></g>
<g id="b31" class="nd"><rect x="3999.5" y="415.5" width="88" height="49"/><text x="4043.5" y="437">regulation of<tspan x="4043.5" dy="15">cell death</tspan></text></g>
<g id="b32" class="nd"><rect x="4164" y="415.5" width="133" height="49"/><text x="4230.5" y="429.5">negative regulation<tspan x="4230.5" dy="15">of cellular</tspan><tspan x="4230.5" dy="15">process</tspan></text></g>
<g id="b33" class="nd lb"><rect x="4373.5" y="415.5" width="130" height="49"/><text x="4438.5" y="444.5">signal transduction</text></g>
<g id="b34" class="nd"><rect x="4576.5" y="415.5" width="119" height="49"/><text x="4636" y="444.5">cell-cell signaling</text></g>
<g id="b35" class="nd lb"><rect x="4767.5" y="415.5" width="139" height="49"/><text x="4837" y="429.5">regulation of<tspan x="4837" dy="15">postsynaptic</tspan><tspan x="4837" dy="15">membrane potential</tspan></text></g>
<g id="b36" class="nd"><rect x="5145" y="415.5" width="125" height="49"/><text x="5207.5" y="444.5">cell differentiation</text></g>
<g id="b37" class="nd"><rect x="5345.5" y="415.5" width="98" height="49"/><text x="5394.5" y="437">sensory organ<tspan x="5394.5" dy="15">development</tspan></text></g>
<g id="b38" class="nd"><rect x="5467.5" y="415.5" width="131" height="49"/><text x="5533" y="437">behavioral defense<tspan x="5533" dy="15">response</tspan></text></g>
<g id="b39" class="nd"><rect x="5623.5" y="415.5" width="94" height="49"/><text x="5670.5" y="444.5">fear response</text></g>
<g id="b40" class="nd"><rect x="5793.5" y="415.5" width="143" height="49"/><text x="5865" y="444.5">system development</text></g>
<g id="b41" class="nd lb"><rect x="6160" y="415.5" width="109" height="49"/><text x="6214.5" y="437">nervous system<tspan x="6214.5" dy="15">process</tspan></text></g>
<g id="b42" class="nd lb"><rect x="3052.5" y="520.5" width="111" height="49"/><text x="3108" y="534.5">monoatomic ion<tspan x="3108" dy="15">transmembrane</tspan><tspan x="3108" dy="15">transport</tspan></text></g>
<g id="b43" class="nd"><rect x="3187" y="520.5" width="129" height="49"/><text x="3251.5" y="542">monoatomic anion<tspan x="3251.5" dy="15">transport</tspan></text></g>
<g id="b44" class="nd"><rect x="3339.5" y="520.5" width="107" height="49"/><text x="3393" y="542">inorganic anion<tspan x="3393" dy="15">transport</tspan></text></g>
<g id="b45" class="nd"><rect x="3471.5" y="520.5" width="110" height="49"/><text x="3526.5" y="534.5">inorganic ion<tspan x="3526.5" dy="15">transmembrane</tspan><tspan x="3526.5" dy="15">transport</tspan></text></g>
<g id="b46" class="nd"><rect x="3658" y="520.5" width="121" height="49"/><text x="3718.5" y="549.5">apoptotic process</text></g>
<g id="b47" class="nd"><rect x="3854.5" y="520.5" width="117" height="49"/><text x="3913" y="534.5">regulation of<tspan x="3913" dy="15">programmed cell</tspan><tspan x="3913" dy="15">death</tspan></text></g>
<g id="b48" class="nd"><rect x="3997" y="520.5" width="91" height="49"/><text x="4042.5" y="542">regulation of<tspan x="4042.5" dy="15">neuron death</tspan></text></g>
<g id="b49" class="nd"><rect x="4164" y="520.5" width="133" height="49"/><text x="4230.5" y="542">negative regulation<tspan x="4230.5" dy="15">of cell death</tspan></text></g>
<g id="b50" class="nd"><rect x="4494.5" y="520.5" width="123" height="49"/><text x="4556" y="549.5">synaptic signaling</text></g>
<g id="b51" class="nd lb"><rect x="4642.5" y="520.5" width="146" height="49"/><text x="4715.5" y="534.5">gamma-aminobutyric<tspan x="4715.5" dy="15">acid signaling</tspan><tspan x="4715.5" dy="15">pathway</tspan></text></g>
<g id="b52" class="nd"><rect x="5049.5" y="520.5" width="117" height="49"/><text x="5108" y="549.5">cell development</text></g>
<g id="b53" class="nd"><rect x="5362.5" y="520.5" width="117" height="49"/><text x="5421" y="549.5">ear development</text></g>
<g id="b54" class="nd cb"><rect x="5568" y="520.5" width="104" height="49"/><text x="5620" y="542">behavioral fear<tspan x="5620" dy="15">response</tspan></text></g>
<g id="b55" class="nd"><rect x="5810.5" y="520.5" width="109" height="49"/><text x="5865" y="542">nervous system<tspan x="5865" dy="15">development</tspan></text></g>
<g id="b56" class="nd"><rect x="6139.5" y="520.5" width="72" height="49"/><text x="6175.5" y="549.5">cognition</text></g>
<g id="b57" class="nd"><rect x="6235.5" y="520.5" width="131" height="49"/><text x="6301" y="549.5">sensory perception</text></g>
<g id="b58" class="nd"><rect x="3079.5" y="619.5" width="128" height="49"/><text x="3143.5" y="633.5">monoatomic anion<tspan x="3143.5" dy="15">transmembrane</tspan><tspan x="3143.5" dy="15">transport</tspan></text></g>
<g id="b59" class="nd lb"><rect x="3232.5" y="619.5" width="121" height="49"/><text x="3293" y="648.5">chloride transport</text></g>
<g id="b60" class="nd"><rect x="3378.5" y="619.5" width="109" height="49"/><text x="3433" y="633.5">inorganic anion<tspan x="3433" dy="15">transmembrane</tspan><tspan x="3433" dy="15">transport</tspan></text></g>
<g id="b61" class="nd"><rect x="3549" y="619.5" width="115" height="49"/><text x="3606.5" y="641">neuron apoptotic<tspan x="3606.5" dy="15">process</tspan></text></g>
<g id="b62" class="nd"><rect x="3741.5" y="619.5" width="120" height="49"/><text x="3801.5" y="641">regulation of<tspan x="3801.5" dy="15">apoptotic process</tspan></text></g>
<g id="b63" class="nd"><rect x="3887" y="619.5" width="132" height="49"/><text x="3953" y="633.5">negative regulation<tspan x="3953" dy="15">of programmed</tspan><tspan x="3953" dy="15">cell death</tspan></text></g>
<g id="b64" class="nd"><rect x="4095" y="619.5" width="132" height="49"/><text x="4161" y="641">negative regulation<tspan x="4161" dy="15">of neuron death</tspan></text></g>
<g id="b65" class="nd"><rect x="4507" y="619.5" width="98" height="49"/><text x="4556" y="641">trans-synaptic<tspan x="4556" dy="15">signaling</tspan></text></g>
<g id="b66" class="nd"><rect x="5243" y="619.5" width="93" height="49"/><text x="5289.5" y="648.5">neurogenesis</text></g>
<g id="b67" class="nd"><rect x="5359.5" y="619.5" width="155" height="49"/><text x="5437" y="648.5">inner ear development</text></g>
<g id="b68" class="nd"><rect x="5881.5" y="619.5" width="133" height="49"/><text x="5948" y="648.5">nerve development</text></g>
<g id="b69" class="nd"><rect x="6112.5" y="619.5" width="76" height="49"/><text x="6150.5" y="641">learning or<tspan x="6150.5" dy="15">memory</tspan></text></g>
<g id="b70" class="nd"><rect x="6235.5" y="619.5" width="131" height="49"/><text x="6301" y="633.5">sensory perception<tspan x="6301" dy="15">of mechanical</tspan><tspan x="6301" dy="15">stimulus</tspan></text></g>
<g id="b71" class="nd lb"><rect x="3210.5" y="718.5" width="166" height="49"/><text x="3293.5" y="740">chloride transmembrane<tspan x="3293.5" dy="15">transport</tspan></text></g>
<g id="b72" class="nd"><rect x="3712" y="718.5" width="132" height="49"/><text x="3778" y="732.5">negative regulation<tspan x="3778" dy="15">of apoptotic</tspan><tspan x="3778" dy="15">process</tspan></text></g>
<g id="b73" class="nd cb"><rect x="3870" y="718.5" width="115" height="49"/><text x="3927.5" y="732.5">regulation of<tspan x="3927.5" dy="15">neuron apoptotic</tspan><tspan x="3927.5" dy="15">process</tspan></text></g>
<g id="b74" class="nd"><rect x="4507" y="718.5" width="98" height="49"/><text x="4556" y="732.5">anterograde<tspan x="4556" dy="15">trans-synaptic</tspan><tspan x="4556" dy="15">signaling</tspan></text></g>
<g id="b75" class="nd"><rect x="5243" y="718.5" width="93" height="49"/><text x="5289.5" y="740">generation of<tspan x="5289.5" dy="15">neurons</tspan></text></g>
<g id="b76" class="nd cb"><rect x="5560" y="718.5" width="146" height="49"/><text x="5633" y="747.5">cochlea development</text></g>
<g id="b77" class="nd cb"><rect x="5959" y="718.5" width="79" height="49"/><text x="5998.5" y="747.5">innervation</text></g>
<g id="b78" class="nd"><rect x="6114.5" y="718.5" width="72" height="49"/><text x="6150.5" y="747.5">learning</text></g>
<g id="b79" class="nd cb"><rect x="6235.5" y="718.5" width="131" height="49"/><text x="6301" y="740">sensory perception<tspan x="6301" dy="15">of sound</tspan></text></g>
<g id="b80" class="nd cb"><rect x="3786.5" y="845.5" width="133" height="49"/><text x="3853" y="859.5">negative regulation<tspan x="3853" dy="15">of neuron apoptotic</tspan><tspan x="3853" dy="15">process</tspan></text></g>
<g id="b81" class="nd lb"><rect x="4494.5" y="845.5" width="123" height="49"/><text x="4556" y="867">chemical synaptic<tspan x="4556" dy="15">transmission</tspan></text></g>
<g id="b82" class="nd"><rect x="5203" y="845.5" width="146" height="49"/><text x="5276" y="874.5">neuron differentiation</text></g>
<g id="b83" class="nd cb"><rect x="6110.5" y="845.5" width="80" height="49"/><text x="6150.5" y="867">associative<tspan x="6150.5" dy="15">learning</tspan></text></g>
<g id="b84" class="nd lb"><rect x="4480" y="995.5" width="152" height="49"/><text x="4556" y="1017">synaptic transmission,<tspan x="4556" dy="15">GABAergic</tspan></text></g>
<g id="b85" class="nd cb"><rect x="5057.5" y="995.5" width="141" height="49"/><text x="5128" y="1024.5">neuron development</text></g>
<g id="b86" class="nd"><rect x="5222.5" y="995.5" width="120" height="49"/><text x="5282.5" y="1017">mechanoreceptor<tspan x="5282.5" dy="15">differentiation</tspan></text></g>
<g id="b87" class="nd"><rect x="5219.5" y="1145.5" width="125" height="49"/><text x="5282" y="1167">inner ear receptor<tspan x="5282" dy="15">cell differentiation</tspan></text></g>
<g id="b88" class="nd cb"><rect x="5157.5" y="1272.5" width="122" height="49"/><text x="5218.5" y="1294">inner ear receptor<tspan x="5218.5" dy="15">cell development</tspan></text></g>
</svg>
